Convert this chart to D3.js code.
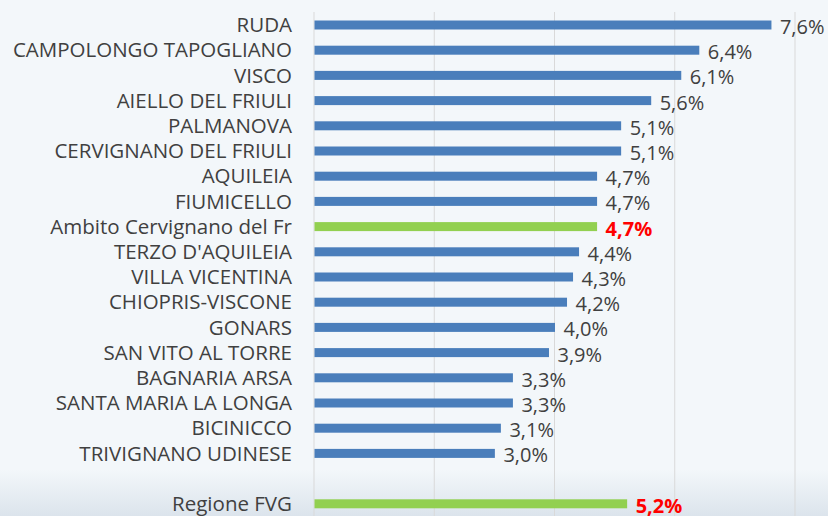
<!DOCTYPE html>
<html>
<head>
<meta charset="utf-8">
<script src="https://cdn.jsdelivr.net/npm/d3@7"></script>
<style>
  html, body { margin: 0; padding: 0; background: #f3f7fa; }
  svg { display: block; }
</style>
</head>
<body>
<svg id="chart" width="828" height="516"></svg>
<script>
// comuni, in order from top to bottom ("" = empty spacer row)
const categories = [
  'RUDA', 'CAMPOLONGO TAPOGLIANO', 'VISCO', 'AIELLO DEL FRIULI', 'PALMANOVA',
  'CERVIGNANO DEL FRIULI', 'AQUILEIA', 'FIUMICELLO', 'Ambito Cervignano del Fr',
  "TERZO D'AQUILEIA", 'VILLA VICENTINA', 'CHIOPRIS-VISCONE', 'GONARS',
  'SAN VITO AL TORRE', 'BAGNARIA ARSA', 'SANTA MARIA LA LONGA', 'BICINICCO',
  'TRIVIGNANO UDINESE', '', 'Regione FVG'
];
const values = [7.6, 6.4, 6.1, 5.6, 5.1, 5.1, 4.7, 4.7, 4.7, 4.4, 4.3, 4.2, 4.0, 3.9, 3.3, 3.3, 3.1, 3.0, null, 5.2];
const highlighted = ['Ambito Cervignano del Fr', 'Regione FVG'];
const gridTicks = [0, 2, 4, 6, 8];

const width = 828, height = 516;
const svg = d3.select('#chart');

// soft shading at the bottom of the slide
const defs = svg.append('defs');
const grad = defs.append('linearGradient')
  .attr('id', 'bottomShade').attr('x1', 0).attr('y1', 0).attr('x2', 0).attr('y2', 1);
grad.append('stop').attr('offset', '0%').attr('stop-color', '#f3f7fa');
grad.append('stop').attr('offset', '100%').attr('stop-color', '#dce4ec');
svg.append('rect').attr('x', 0).attr('y', 470).attr('width', width).attr('height', height - 470)
  .attr('fill', 'url(#bottomShade)');

const keys = categories.map((c, i) => c || 'blank' + i);
const data = categories.map((c, i) => ({ key: keys[i], label: c, value: values[i] }))
  .filter(d => d.value !== null);

const x = d3.scaleLinear().domain([0, 8]).range([314, 795]);
const y = d3.scalePoint().domain(keys).range([12.4, 516.4]).padding(0.5);
const barH = 9;

// vertical gridlines
svg.append('g')
  .selectAll('line')
  .data(gridTicks)
  .join('line')
  .attr('x1', d => x(d)).attr('x2', d => x(d))
  .attr('y1', 12).attr('y2', height)
  .attr('stroke', '#d9d9d9')
  .attr('stroke-width', 1);

// bars
svg.append('g')
  .selectAll('rect')
  .data(data)
  .join('rect')
  .attr('x', x(0) + 0.5)
  .attr('y', d => y(d.key) - barH / 2)
  .attr('width', d => x(d.value) - x(0))
  .attr('height', barH)
  .attr('fill', d => highlighted.includes(d.label) ? '#92d050' : '#4a7ebb');

// category labels
svg.append('g')
  .selectAll('text')
  .data(data)
  .join('text')
  .attr('x', 292)
  .attr('y', d => y(d.key))
  .attr('dy', '0.35em')
  .attr('text-anchor', 'end')
  .attr('font-family', '"Open Sans", sans-serif')
  .attr('font-size', '20.5px')
  .attr('fill', '#404040')
  .text(d => d.label);

// value labels
const fmt = v => v.toFixed(1).replace('.', ',') + '%';
svg.append('g')
  .selectAll('text')
  .data(data)
  .join('text')
  .attr('x', d => x(d.value) + 9)
  .attr('y', d => y(d.key) + 2)
  .attr('dy', '0.35em')
  .attr('font-family', '"Open Sans", sans-serif')
  .attr('font-size', '20px')
  .attr('font-weight', d => highlighted.includes(d.label) ? 'bold' : 'normal')
  .attr('fill', d => highlighted.includes(d.label) ? '#ff0000' : '#404040')
  .text(d => fmt(d.value));
</script>
</body>
</html>
